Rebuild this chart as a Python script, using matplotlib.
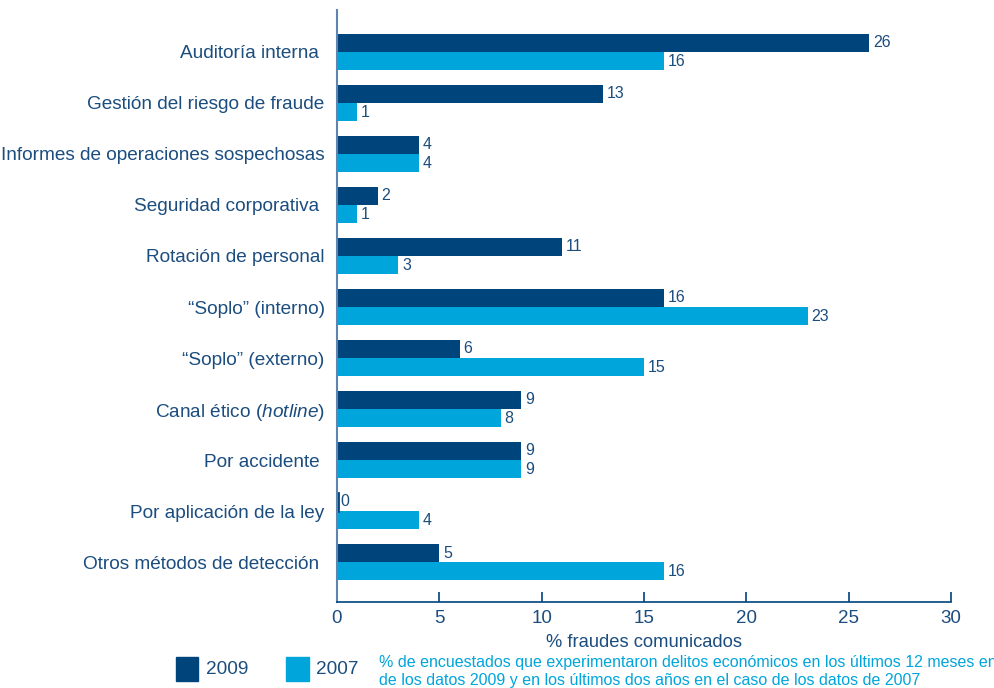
import numpy as np
import matplotlib
matplotlib.use('Agg')
import matplotlib.pyplot as plt
from matplotlib.patches import Rectangle

plt.rcParams['font.family'] = ['Liberation Sans', 'DejaVu Sans']
plt.rcParams['mathtext.fontset'] = 'custom'
plt.rcParams['mathtext.it'] = 'Liberation Sans:italic'
plt.rcParams['mathtext.rm'] = 'Liberation Sans'

# Data
categories = ['Auditoría interna ', 'Gestión del riesgo de fraude',
              'Informes de operaciones sospechosas', 'Seguridad corporativa ',
              'Rotación de personal', '“Soplo” (interno)', '“Soplo” (externo)',
              r'Canal ético $\it{(hotline)}$', 'Por accidente ',
              'Por aplicación de la ley', 'Otros métodos de detección ']
vals_2009 = [26, 13, 4, 2, 11, 16, 6, 9, 9, 0, 5]
vals_2007 = [16, 1, 4, 1, 3, 23, 15, 8, 9, 4, 16]
xticks = [0, 5, 10, 15, 20, 25, 30]

navy = '#00447c'
cyan = '#00a5db'
txt = '#1b4d7e'

fig = plt.figure(figsize=(9.95, 6.88), dpi=100)
ax = fig.add_axes([337/995, 1-602/688, 614/995, 592/688])

y = np.arange(len(categories))
h = 0.35
ax.barh(y - 0.18, vals_2009, height=h, color=navy, label='2009')
ax.barh(y + 0.18, vals_2007, height=h, color=cyan, label='2007')
# zero bar shows as thin line
for i, v in enumerate(vals_2009):
    if v == 0:
        ax.plot([0.05, 0.05], [i - 0.18 - h/2, i - 0.18 + h/2], color=navy, lw=2)

for i in range(len(categories)):
    ax.text(vals_2009[i] + 0.18, y[i] - 0.18, str(vals_2009[i]), va='center', ha='left',
            fontsize=11.5, color=txt)
    ax.text(vals_2007[i] + 0.18, y[i] + 0.18, str(vals_2007[i]), va='center', ha='left',
            fontsize=11.5, color=txt)

ax.set_xlim(0, 30)
ax.set_ylim(10.78, -0.82)
ax.set_yticks(y)
ax.set_yticklabels(categories, fontsize=13.7, color=txt)
ax.set_xticks(xticks)
ax.set_xticklabels([str(t) for t in xticks], fontsize=13.5, color=txt)
ax.tick_params(axis='y', length=0, pad=9)
ax.tick_params(axis='x', direction='in', length=7, width=1.2, color=navy, pad=6)
ax.spines['top'].set_visible(False)
ax.spines['right'].set_visible(False)
ax.spines['left'].set_color('#5f84ad')
ax.spines['left'].set_linewidth(1.5)
ax.spines['bottom'].set_color(navy)
ax.spines['bottom'].set_linewidth(1.2)
ax.set_xlabel('% fraudes comunicados', fontsize=13.2, color=txt, labelpad=5)

# legend at the bottom
fig.patches.append(Rectangle((176/995, 1-681/688), 22/995, 24/688, transform=fig.transFigure,
                             color=navy))
fig.text(206/995, 1-669/688, '2009', fontsize=13.7, color=txt, va='center')
fig.patches.append(Rectangle((286/995, 1-681/688), 23/995, 24/688, transform=fig.transFigure,
                             color=cyan))
fig.text(316/995, 1-669/688, '2007', fontsize=13.7, color=txt, va='center')
fig.text(379/995, 1-663/688,
         '% de encuestados que experimentaron delitos económicos en los últimos 12 meses en',
         fontsize=11.5, color=cyan, va='center')
fig.text(379/995, 1-681/688,
         'de los datos 2009 y en los últimos dos años en el caso de los datos de 2007',
         fontsize=11.5, color=cyan, va='center')

fig.savefig('out.png', dpi=100)
